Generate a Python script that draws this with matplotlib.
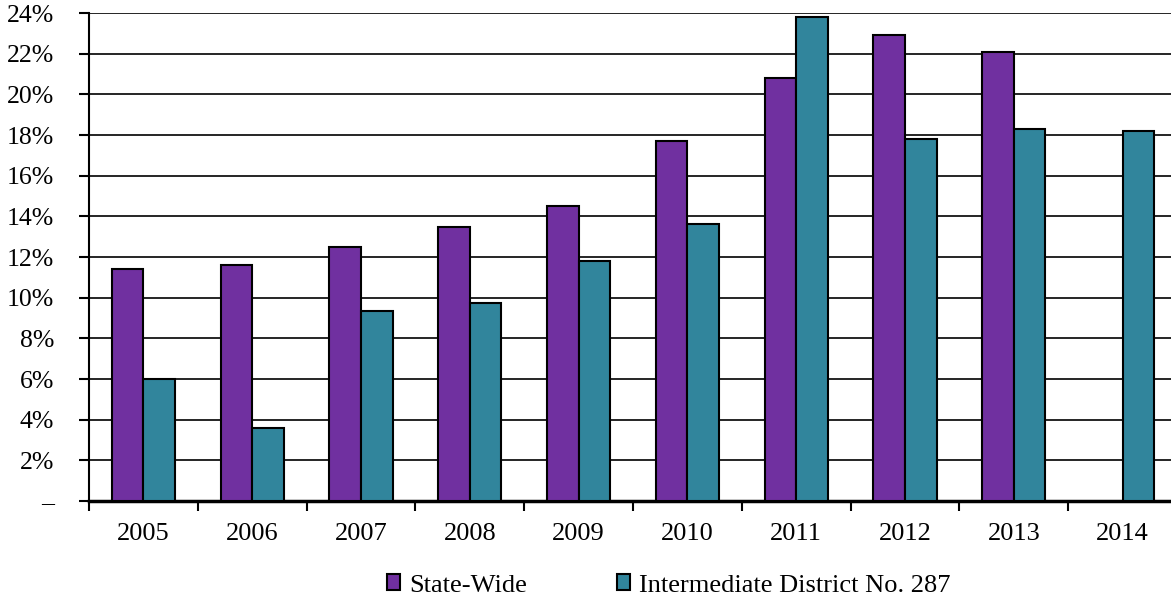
import matplotlib
matplotlib.use("Agg")
import matplotlib.pyplot as plt
import numpy as np
from matplotlib.ticker import FixedLocator

years = ["2005", "2006", "2007", "2008", "2009", "2010", "2011", "2012", "2013", "2014"]
state_wide = [11.4, 11.6, 12.5, 13.5, 14.5, 17.7, 20.8, 22.9, 22.1, np.nan]
district = [6.0, 3.6, 9.35, 9.75, 11.8, 13.6, 23.8, 17.8, 18.3, 18.2]
y_ticks = [0, 2, 4, 6, 8, 10, 12, 14, 16, 18, 20, 22, 24]
y_labels = ["–"] + [f"{v}%" for v in y_ticks[1:]]

plt.rcParams['font.family'] = ['Liberation Serif', 'DejaVu Serif']
FS = 19

fig = plt.figure(figsize=(11.71, 6.13), dpi=100)
ax = fig.add_axes([89/1171, 1 - 501/613, 1088/1171, (501 - 13)/613])

x = np.arange(len(years))
w = 0.29
purple = "#7030A0"
teal = "#31859C"
ax.bar(x - w/2, state_wide, w, color=purple, edgecolor="black", linewidth=1.5, label="State-Wide", zorder=3)
ax.bar(x + w/2, district, w, color=teal, edgecolor="black", linewidth=1.5, label="Intermediate District No. 287", zorder=3)

ax.set_xlim(-0.5, len(years) - 0.5)
ax.set_ylim(0, 24)
ax.set_yticks(y_ticks)
ax.set_yticklabels(y_labels, fontsize=FS - 0.5)
ax.yaxis.grid(True, color="black", linewidth=1.2, zorder=0)
ax.set_axisbelow(True)

ax.set_xticks(x)
ax.set_xticklabels(years, fontsize=FS)
ax.tick_params(axis="x", which="major", length=0, pad=16)
ax.xaxis.set_minor_locator(FixedLocator(np.arange(-0.5, len(years) - 0.5, 1.0)))
ax.tick_params(axis="x", which="minor", length=7, width=1.5, direction="out")
ax.tick_params(axis="y", length=7, width=1.5, direction="out", pad=18)

for s in ["top", "right"]:
    ax.spines[s].set_visible(False)
ax.spines["left"].set_linewidth(1.5)
ax.spines["bottom"].set_linewidth(2.5)

fig.legend(loc="center", bbox_to_anchor=(0.571, 0.045), ncol=2, frameon=False,
           fontsize=FS, handlelength=0.5, handleheight=0.55, handletextpad=0.35,
           columnspacing=3.4)

fig.savefig("out.png", dpi=100)
